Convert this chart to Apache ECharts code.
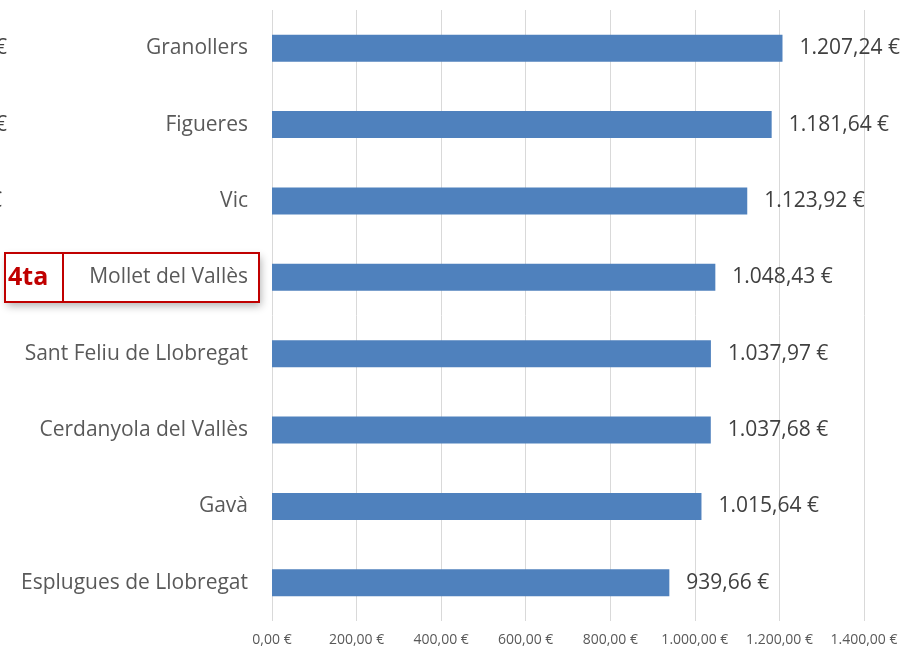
<!DOCTYPE html>
<html>
<head>
<meta charset="utf-8">
<title>Preu mitjà per ciutat</title>
<script src="https://cdn.jsdelivr.net/npm/echarts@6/dist/echarts.min.js"></script>
<style>
  html, body { margin: 0; padding: 0; background: #fff; }
  #chart { width: 903px; height: 648px; }
</style>
</head>
<body>
<div id="chart"></div>
<script>
// dades (de dalt a baix)
var cities = ['Granollers', 'Figueres', 'Vic', 'Mollet del Vallès',
  'Sant Feliu de Llobregat', 'Cerdanyola del Vallès', 'Gavà', 'Esplugues de Llobregat']
var prices = [1207.24, 1181.64, 1123.92, 1048.43, 1037.97, 1037.68, 1015.64, 939.66]
var xTicks = [0, 200, 400, 600, 800, 1000, 1200, 1400]
var rankLabel = '4ta'

var font = 'Open Sans'

// 1207.24 -> "1.207,24 €"
function euro(v) {
  var parts = Number(v).toFixed(2).split('.')
  var int = parts[0].replace(/\B(?=(\d{3})+(?!\d))/g, '.')
  return int + ',' + parts[1] + ' €'
}

var chart = echarts.init(document.getElementById('chart'))

chart.setOption({
  animation: false,
  grid: {
    left: 272,
    right: 39,
    top: 10,
    bottom: 27,
    containLabel: false,
    outerBoundsMode: 'none'
  },
  xAxis: {
    type: 'value',
    min: xTicks[0],
    max: xTicks[xTicks.length - 1],
    interval: 200,
    axisLine: { show: false },
    axisTick: { show: false },
    splitLine: { lineStyle: { color: '#d9d9d9', width: 1 } },
    axisLabel: {
      margin: 12,
      fontFamily: font,
      fontSize: 14,
      color: '#595959',
      formatter: euro
    }
  },
  yAxis: {
    type: 'category',
    inverse: true,
    data: cities,
    axisLine: { show: false },
    axisTick: { show: false },
    axisLabel: {
      margin: 24,
      fontFamily: font,
      fontSize: 21,
      color: '#595959'
    }
  },
  series: [{
    type: 'bar',
    data: prices,
    barWidth: 27,
    itemStyle: { color: '#4f81bd' },
    label: {
      show: true,
      position: 'right',
      distance: 17,
      fontFamily: font,
      fontSize: 21,
      color: '#404040',
      formatter: function (p) { return euro(p.value) }
    }
  }],
  graphic: [
    // restes del gràfic veí, retallades a la vora esquerra
    { type: 'text', left: -5, top: 38, style: { text: '€', fontFamily: font, fontSize: 21, fill: '#404040' } },
    { type: 'text', left: -5, top: 115, style: { text: '€', fontFamily: font, fontSize: 21, fill: '#404040' } },
    { type: 'text', left: -10, top: 191, style: { text: '€', fontFamily: font, fontSize: 21, fill: '#404040' } },
    // requadre vermell al voltant de Mollet
    {
      type: 'rect', z: -10,
      shape: { x: 5, y: 253, width: 254, height: 49 },
      style: { fill: '#fff', shadowBlur: 8, shadowOffsetX: 2, shadowOffsetY: 4, shadowColor: 'rgba(0,0,0,0.3)' }
    },
    {
      type: 'rect', z: 100,
      shape: { x: 5, y: 253, width: 254, height: 49 },
      style: { fill: null, stroke: '#c00000', lineWidth: 2 }
    },
    {
      type: 'line', z: 100,
      shape: { x1: 63, y1: 253, x2: 63, y2: 302 },
      style: { stroke: '#c00000', lineWidth: 2 }
    },
    {
      type: 'text', z: 100, left: 8, top: 265,
      style: { text: rankLabel, fontFamily: font, fontSize: 25, fontWeight: 'bold', fill: '#c00000' }
    }
  ]
})
</script>
</body>
</html>
